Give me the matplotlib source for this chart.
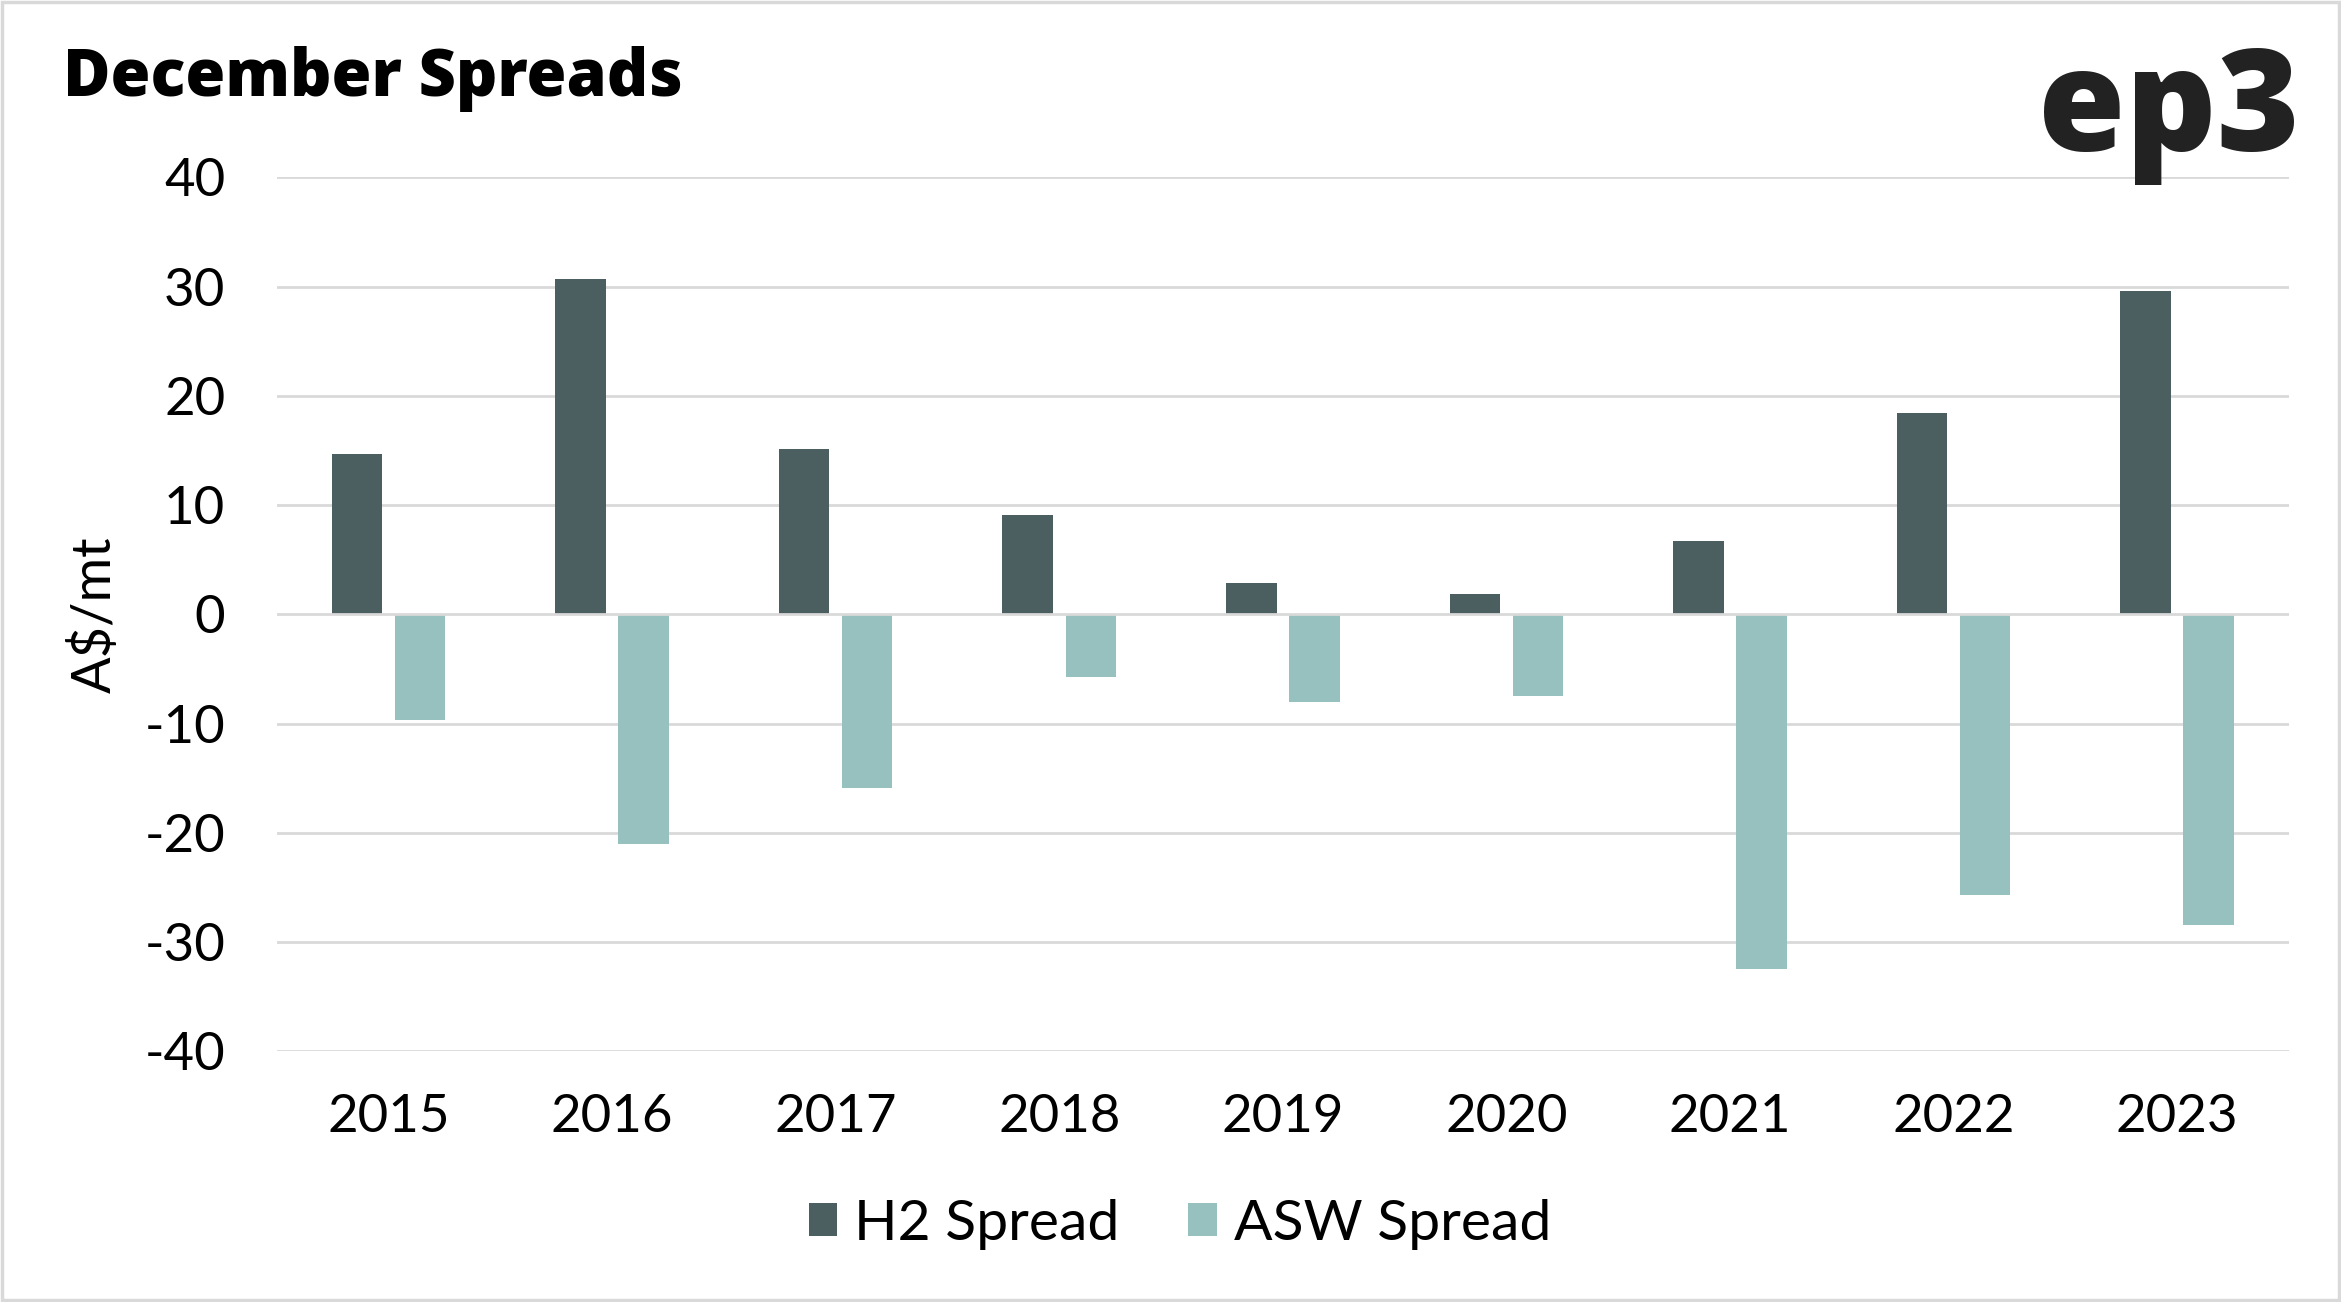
import matplotlib
matplotlib.use("Agg")
import matplotlib.pyplot as plt
import numpy as np
from matplotlib.patches import Rectangle

years = ["2015", "2016", "2017", "2018", "2019", "2020", "2021", "2022", "2023"]
h2_spread = [14.7, 30.7, 15.1, 9.1, 2.9, 1.9, 6.7, 18.4, 29.6]
asw_spread = [-9.7, -21.0, -15.9, -5.7, -8.0, -7.5, -32.5, -25.7, -28.4]
y_ticks = [-40, -30, -20, -10, 0, 10, 20, 30, 40]

H2_COLOR = "#4B5E60"
ASW_COLOR = "#96C1BF"
GRID = "#D9D9D9"
FONT = ["Lato", "DejaVu Sans"]
HEAVY = ["Open Sans", "DejaVu Sans"]

W, H = 2341, 1302
fig = plt.figure(figsize=(W / 100, H / 100), dpi=100)
fig.patch.set_facecolor("white")

left, right = 276.7 / W, 2289 / W
bottom, top = 1 - 1051.3 / H, 1 - 177.3 / H
ax = fig.add_axes([left, bottom, right - left, top - bottom])

x = np.arange(len(years))
bw = 0.226
off = 0.141
b1 = ax.bar(x - off, h2_spread, width=bw, color=H2_COLOR, label="H2 Spread", zorder=2)
b2 = ax.bar(x + off, asw_spread, width=bw, color=ASW_COLOR, label="ASW Spread", zorder=2)

ax.set_xlim(-0.5, len(years) - 0.5)
ax.set_ylim(-40, 40)
ax.set_yticks(y_ticks)
ax.set_yticklabels([str(v) for v in y_ticks], fontsize=38, family=FONT, color="black")
ax.set_xticks(x)
ax.set_xticklabels(years, fontsize=38, family=FONT, color="black")
ax.tick_params(axis="y", length=0, pad=37)
ax.tick_params(axis="x", length=0, pad=31)

for v in y_ticks:
    ax.axhline(v, color=GRID, lw=2.0, zorder=3 if v == 0 else 1)

for s in ax.spines.values():
    s.set_visible(False)

ax.set_ylabel("A$/mt", fontsize=39, family=FONT, color="black")
ax.yaxis.set_label_coords((120 / W - left) / (right - left), 0.5)

fig.text(63 / W, 1 - 96 / H, "December Spreads", fontsize=46.5, family=HEAVY,
         fontweight=800, ha="left", va="baseline", color="black")
fig.text(2300 / W, 1 - 151 / H, "ep3", fontsize=102, family=HEAVY,
         fontweight=800, ha="right", va="baseline", color="#222222")

leg = fig.legend(handles=[b1, b2], loc="center", bbox_to_anchor=(1180 / W, 1 - 1224 / H),
                 ncol=2, frameon=False, prop={"family": FONT, "size": 41},
                 handlelength=0.5, handleheight=0.5, handletextpad=0.3, columnspacing=1.2)
for t in leg.get_texts():
    t.set_color("black")

fig.patches.append(Rectangle((0.0008, 0.0012), 0.9984, 0.9976, transform=fig.transFigure,
                             fill=False, edgecolor=GRID, lw=2.5, zorder=10))

fig.savefig("out.png", dpi=100, facecolor="white")
